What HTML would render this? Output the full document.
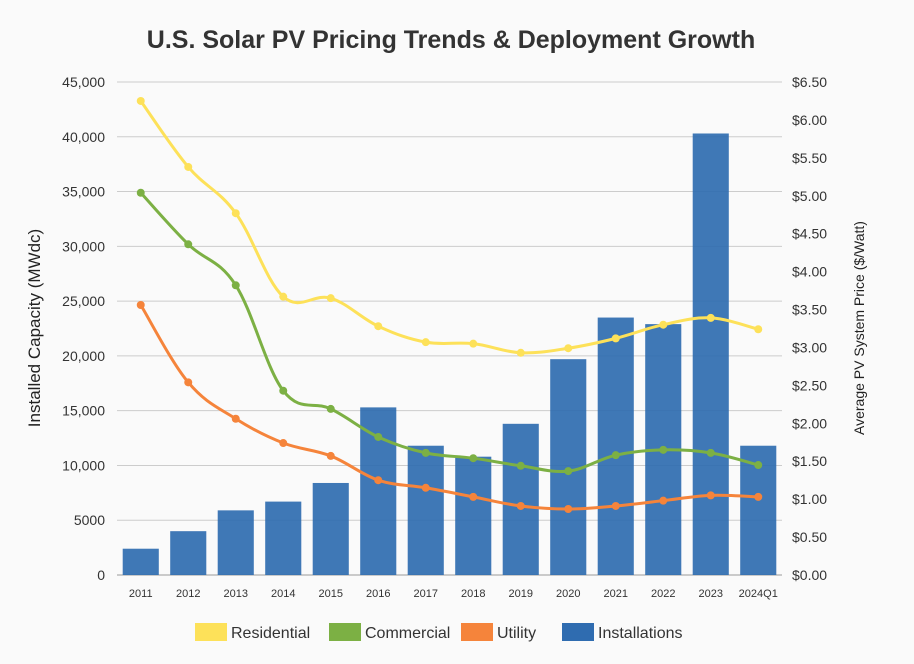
<!DOCTYPE html>
<html><head><meta charset="utf-8"><style>
body{margin:0;background:#fafafa;font-family:"Liberation Sans",sans-serif;}
svg text{font-family:"Liberation Sans",sans-serif;}
</style></head><body>
<svg id="c" width="914" height="659">
<rect width="914" height="659" fill="#fafafa"/>
<text x="451" y="48" text-anchor="middle" font-size="25" font-weight="bold" fill="#333">U.S. Solar PV Pricing Trends &amp; Deployment Growth</text>
<text transform="translate(40,328) rotate(-90)" text-anchor="middle" font-size="17" fill="#222">Installed Capacity (MWdc)</text>
<text transform="translate(864,328) rotate(-90)" text-anchor="middle" font-size="14" fill="#222">Average PV System Price ($/Watt)</text>
<g id="grid"></g><g id="bars"></g><g id="lines"></g><g id="axes"></g><g id="legend"></g>
</svg>
<script>
const categories=["2011","2012","2013","2014","2015","2016","2017","2018","2019","2020","2021","2022","2023","2024Q1"];
const installations=[2400,4000,5900,6700,8400,15300,11800,10800,13800,19700,23500,22900,40300,11800];
const residential=[6.25,5.38,4.77,3.67,3.65,3.28,3.07,3.05,2.93,2.99,3.12,3.30,3.39,3.24];
const commercial=[5.04,4.36,3.82,2.43,2.19,1.82,1.61,1.54,1.44,1.37,1.58,1.65,1.61,1.45];
const utility=[3.56,2.54,2.06,1.74,1.57,1.25,1.15,1.03,0.91,0.87,0.91,0.98,1.05,1.03];
const leftTicks=[0,5000,10000,15000,20000,25000,30000,35000,40000,45000];
const rightTicks=[0,0.5,1,1.5,2,2.5,3,3.5,4,4.5,5,5.5,6,6.5];
const NS="http://www.w3.org/2000/svg";
const X0=117,X1=782,Y0=575,Y1=82;
const bw=(X1-X0)/categories.length;
const xc=i=>X0+bw*(i+0.5);
const yL=v=>Y0-(v/45000)*(Y0-Y1);
const yR=v=>Y0-(v/6.5)*(Y0-Y1);
function mk(t,a,p){const e=document.createElementNS(NS,t);for(const k in a)e.setAttribute(k,a[k]);p.appendChild(e);return e;}
const grid=document.getElementById('grid'),axes=document.getElementById('axes');
leftTicks.forEach(v=>{
 const l=mk('line',{x1:X0,x2:X1,y1:yL(v),y2:yL(v),stroke:v===0?'#999':'#ccc','stroke-width':1},grid);
 
 
 const t=mk('text',{x:X0-12,y:yL(v)+5,'text-anchor':'end','font-size':14,fill:'#333'},axes);
 t.textContent=v===0?'0':(v>=10000?v.toLocaleString('en-US'):String(v));
 
 
});
rightTicks.forEach(v=>{
 const t=mk('text',{x:X1+10,y:yR(v)+5,'text-anchor':'start','font-size':14,fill:'#333'},axes);
 t.textContent='$'+v.toFixed(2);
 
 
});
const bars=document.getElementById('bars');
categories.forEach((c,i)=>{
 const r=mk('rect',{x:xc(i)-bw*0.38,width:bw*0.76,y:yL(installations[i]),height:Y0-yL(installations[i]),fill:'#2f6cb0','fill-opacity':0.92},bars);
 
 
 const t=mk('text',{x:xc(i),y:597,'text-anchor':'middle','font-size':11,fill:'#333'},axes);
 t.textContent=c;
 
 
});
function path(pts){let d='M'+pts[0][0]+','+pts[0][1];
 for(let i=0;i<pts.length-1;i++){const p0=pts[i-1]||pts[i],p1=pts[i],p2=pts[i+1],p3=pts[i+2]||p2;const k=0.18;
 d+=' C'+(p1[0]+(p2[0]-p0[0])*k)+','+(p1[1]+(p2[1]-p0[1])*k)+' '+(p2[0]-(p3[0]-p1[0])*k)+','+(p2[1]-(p3[1]-p1[1])*k)+' '+p2[0]+','+p2[1];}
 return d;}
const lines=document.getElementById('lines');
[[residential,'#fde159','residential'],[commercial,'#7cb044','commercial'],[utility,'#f5843b','utility']].forEach(([arr,col,n])=>{
 const pts=arr.map((v,i)=>[xc(i),yR(v)]);
 const p=mk('path',{d:path(pts),fill:'none',stroke:col,'stroke-width':3},lines);
 
 
 pts.forEach(q=>{const c=mk('circle',{cx:q[0],cy:q[1],r:4,fill:col},lines);
 
 });
});
const leg=document.getElementById('legend');
[['Residential','#fde159',195],['Commercial','#7cb044',329],['Utility','#f5843b',461],['Installations','#2f6cb0',562]].forEach(([n,col,x])=>{
 const g=mk('g',{},leg);
 
 
 mk('rect',{x:x,y:623,width:32,height:18,fill:col},g);
 const t=mk('text',{x:x+36,y:638,'font-size':16,fill:'#333'},g);t.textContent=n;
});
</script>
</body></html>
